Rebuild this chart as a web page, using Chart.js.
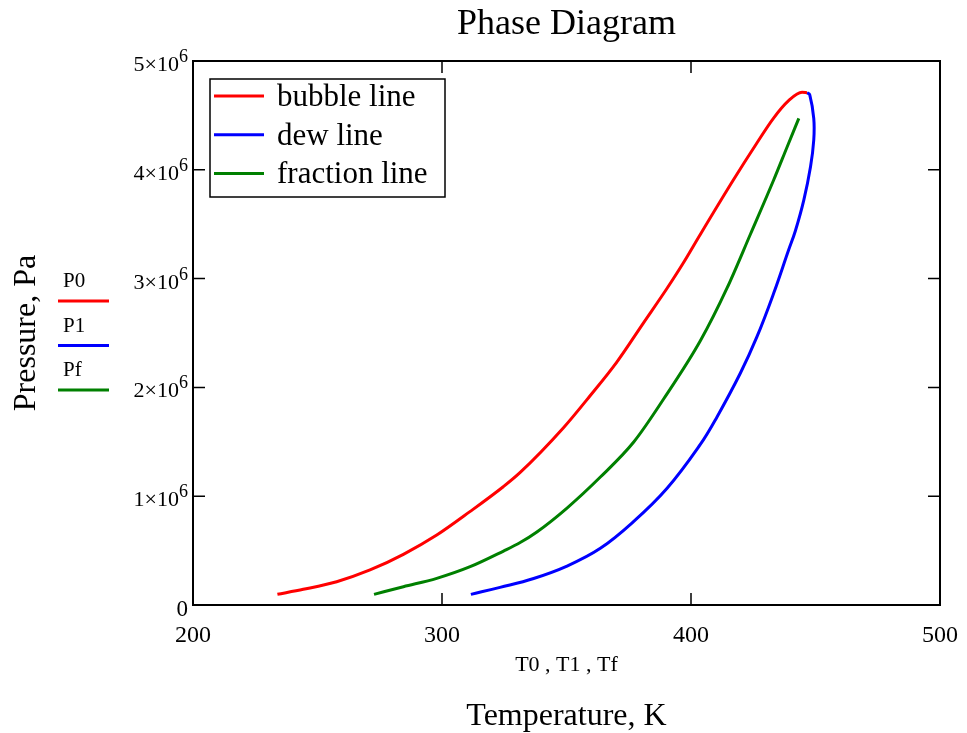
<!DOCTYPE html>
<html>
<head>
<meta charset="utf-8">
<script src="https://cdn.jsdelivr.net/npm/chart.js@4.4.0/dist/chart.umd.min.js"></script>
<style>
  body { margin: 0; background: #fff; }
</style>
</head>
<body>
<canvas id="phaseChart" width="967" height="733"></canvas>
<script>
// bubble line (T0, P0)
var bubbleT = [233.9, 244.3, 257.7, 271.1, 284.5, 297.9, 311.2, 324.6, 331.3, 348.7, 359.4, 370.2, 380.8, 390.2, 396.9, 403.6, 417.0, 426.4, 433.1, 439.2, 444.6, 446.6];
var bubbleP = [98000, 144000, 214000, 322000, 466000, 643000, 858000, 1087000, 1216000, 1627000, 1921000, 2233000, 2589000, 2904000, 3143000, 3401000, 3906000, 4244000, 4473000, 4635000, 4712000, 4709000];
// dew line (T1, P1)
var dewT = [311.6, 323.3, 336.8, 350.2, 363.6, 376.9, 390.4, 403.6, 410.5, 419.8, 426.5, 433.2, 439.2, 441.9, 445.3, 448.0, 449.3, 449.3, 447.7, 446.6];
var dewP = [98000, 162000, 244000, 358000, 521000, 766000, 1073000, 1471000, 1731000, 2130000, 2466000, 2865000, 3263000, 3438000, 3722000, 4029000, 4274000, 4473000, 4688000, 4709000];
// fraction line (Tf, Pf)
var fracT = [272.7, 284.5, 297.9, 311.3, 324.7, 331.4, 338.1, 350.2, 363.6, 377.0, 389.0, 403.7, 414.5, 423.9, 433.2, 438.6, 443.3];
var fracP = [98000, 168000, 245000, 352000, 496000, 574000, 671000, 891000, 1176000, 1498000, 1893000, 2426000, 2914000, 3410000, 3906000, 4210000, 4473000];

var seriesLabels = ["bubble line", "dew line", "fraction line"];
var varLabels = ["P0", "P1", "Pf"];
var xTicks = [200, 300, 400, 500];
var yTicks = [0, 1e6, 2e6, 3e6, 4e6, 5e6];

var SERIF = '"Liberation Serif", "Times New Roman", serif';

function pts(xs, ys) {
    return xs.map(function (x, i) { return { x: x, y: ys[i] }; });
}

// draws the frame, inward ticks, y labels, titles and both legends
var decorations = {
    id: 'decorations',
    afterDraw: function (chart) {
        var ctx = chart.ctx;
        var a = chart.chartArea;
        var xs = chart.scales.x, ys = chart.scales.y;
        ctx.save();

        // frame
        ctx.strokeStyle = '#000';
        ctx.lineWidth = 2;
        ctx.strokeRect(a.left, a.top, a.right - a.left, a.bottom - a.top);

        // inward tick marks
        ctx.lineWidth = 1.5;
        ctx.beginPath();
        xTicks.forEach(function (v) {
            var px = xs.getPixelForValue(v);
            ctx.moveTo(px, a.bottom); ctx.lineTo(px, a.bottom - 12);
            ctx.moveTo(px, a.top); ctx.lineTo(px, a.top + 12);
        });
        yTicks.forEach(function (v) {
            var py = ys.getPixelForValue(v);
            ctx.moveTo(a.left, py); ctx.lineTo(a.left + 12, py);
            ctx.moveTo(a.right, py); ctx.lineTo(a.right - 12, py);
        });
        ctx.stroke();

        // y tick labels  n×10^6
        ctx.fillStyle = '#000';
        ctx.textBaseline = 'alphabetic';
        yTicks.forEach(function (v) {
            var py = ys.getPixelForValue(v);
            var right = a.left - 5;
            if (v === 0) {
                ctx.font = '23px ' + SERIF;
                ctx.textAlign = 'right';
                ctx.fillText('0', right, py + 11);
                return;
            }
            ctx.font = '18px ' + SERIF;
            ctx.textAlign = 'right';
            ctx.fillText('6', right, py + 1);
            var w = ctx.measureText('6').width;
            ctx.font = '22px ' + SERIF;
            ctx.fillText((v / 1e6) + '\u00d710', right - w, py + 10);
        });

        // chart title
        ctx.textAlign = 'center';
        ctx.font = '36px ' + SERIF;
        ctx.fillText('Phase Diagram', (a.left + a.right) / 2, 34);

        // x axis titles
        ctx.font = '22px ' + SERIF;
        ctx.fillText('T0 , T1 , Tf', (a.left + a.right) / 2, 671);
        ctx.font = '32px ' + SERIF;
        ctx.fillText('Temperature, K', (a.left + a.right) / 2, 725);

        // y axis title
        ctx.save();
        ctx.translate(35, 333);
        ctx.rotate(-Math.PI / 2);
        ctx.fillText('Pressure, Pa', 0, 0);
        ctx.restore();

        // variable legend on the left
        var ds = chart.data.datasets;
        ctx.textAlign = 'left';
        ctx.font = '21px ' + SERIF;
        ctx.lineWidth = 3;
        varLabels.forEach(function (t, i) {
            var y0 = 287 + i * 44.5;
            ctx.fillStyle = '#000';
            ctx.fillText(t, 63, y0);
            ctx.strokeStyle = ds[i].borderColor;
            ctx.beginPath();
            ctx.moveTo(58, y0 + 14); ctx.lineTo(109, y0 + 14);
            ctx.stroke();
        });

        // boxed legend inside plot
        ctx.fillStyle = '#fff';
        ctx.fillRect(210, 79, 235, 118);
        ctx.strokeStyle = '#000';
        ctx.lineWidth = 1.5;
        ctx.strokeRect(210, 79, 235, 118);
        ctx.font = '31px ' + SERIF;
        seriesLabels.forEach(function (t, i) {
            var ly = 96 + i * 38.7;
            ctx.strokeStyle = ds[i].borderColor;
            ctx.lineWidth = 3;
            ctx.beginPath();
            ctx.moveTo(214, ly); ctx.lineTo(264, ly);
            ctx.stroke();
            ctx.fillStyle = '#000';
            ctx.fillText(t, 277, ly + 10);
        });

        ctx.restore();
    }
};

var ctx = document.getElementById('phaseChart').getContext('2d');
var phaseChart = new Chart(ctx, {
    type: 'scatter',
    data: {
        datasets: [
            {
                label: seriesLabels[0],
                data: pts(bubbleT, bubbleP),
                borderColor: '#ff0000',
                backgroundColor: '#ff0000',
                cubicInterpolationMode: 'monotone'
            },
            {
                label: seriesLabels[1],
                data: pts(dewT, dewP),
                borderColor: '#0000ff',
                backgroundColor: '#0000ff',
                tension: 0.4
            },
            {
                label: seriesLabels[2],
                data: pts(fracT, fracP),
                borderColor: '#008000',
                backgroundColor: '#008000',
                cubicInterpolationMode: 'monotone'
            }
        ]
    },
    options: {
        responsive: false,
        animation: false,
        showLine: true,
        elements: {
            point: { radius: 0, hoverRadius: 0 },
            line: { borderWidth: 3, tension: 0.4 }
        },
        layout: { padding: { left: 193, right: 27, top: 61, bottom: 0 } },
        plugins: {
            legend: { display: false },
            tooltip: { enabled: false }
        },
        scales: {
            x: {
                type: 'linear',
                min: 200,
                max: 500,
                afterBuildTicks: function (s) { s.ticks = xTicks.map(function (v) { return { value: v }; }); },
                afterFit: function (s) { s.height = 128; },
                grid: { display: false },
                border: { display: false },
                ticks: {
                    color: '#000',
                    padding: 8,
                    maxRotation: 0,
                    font: { family: SERIF, size: 24 }
                }
            },
            y: {
                type: 'linear',
                min: 0,
                max: 5e6,
                afterBuildTicks: function (s) { s.ticks = yTicks.map(function (v) { return { value: v }; }); },
                afterFit: function (s) { s.width = 0; },
                grid: { display: false },
                border: { display: false },
                ticks: { display: false }
            }
        }
    },
    plugins: [decorations]
});
</script>
</body>
</html>
